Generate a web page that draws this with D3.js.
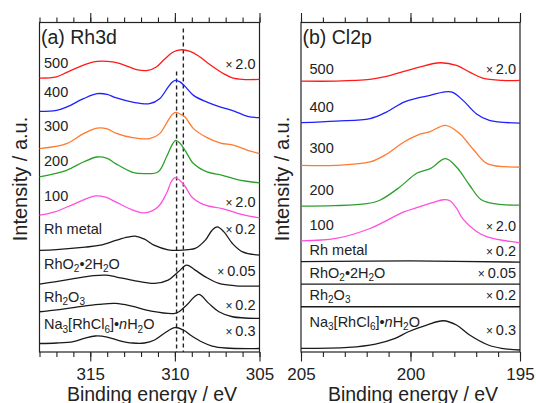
<!DOCTYPE html>
<html>
<head>
<meta charset="utf-8">
<script src="https://cdn.jsdelivr.net/npm/d3@7"></script>
<style>
  body { margin: 0; background: #fff; }
  text { font-family: "Liberation Sans", Arial, sans-serif; fill: #222; }
</style>
</head>
<body>
<script>
"use strict";

// ---- data: [binding energy (eV), stacked intensity (a.u.)] ----
// Rh3d
const rh500 = [[318, 274.3], [317, 275.5], [316.4, 280], [315.8, 284.5], [315.2, 288.5], [314.6, 291],
  [314.0, 291], [313.4, 289.5], [312.8, 286], [312.2, 282.5], [311.6, 282], [311.1, 285.5], [310.6, 293.5],
  [310.1, 300.5], [309.6, 302.7], [309.1, 301], [308.6, 296.5], [308.1, 290], [307.6, 284], [307.1, 278.5],
  [306.6, 274.5], [306.0, 273], [305, 273]];
const rh400 = [[318, 241], [317, 242], [316.4, 245.3], [315.4, 253.7], [314.6, 258.7], [314.0, 258],
  [313.5, 254.7], [312.5, 250.3], [311.5, 248.7], [310.9, 253.7], [310.4, 265.3], [310.15, 270.5],
  [309.95, 272], [309.7, 270.5], [309.4, 266], [308.9, 257], [308.1, 250.3], [307.3, 245.3], [306.5, 241.3],
  [305.7, 236], [305, 234.7]];
const rh300 = [[318, 203.7], [316.4, 208.7], [315.4, 218.7], [314.6, 224.3], [314.0, 223.5], [313.5, 219.3],
  [312.5, 214.7], [311.5, 213.7], [310.9, 218.7], [310.4, 232], [310.15, 238], [309.95, 240], [309.7, 238.5],
  [309.4, 235.3], [308.9, 223.7], [308.1, 214.7], [307.3, 209.3], [306.5, 207], [305.7, 202], [305, 198.7]];
const rh200 = [[318, 175.3], [316.4, 182], [315.4, 190.3], [314.6, 195.3], [314.0, 194], [313.5, 188.7],
  [312.5, 180], [311.8, 178.7], [311.0, 180.3], [310.5, 195.3], [310.15, 208], [309.95, 212], [309.7, 209],
  [309.4, 202], [308.9, 188.7], [308.1, 180.3], [307.2, 177], [306.3, 172.7], [305, 169.3]];
const rh100 = [[318, 137], [317.1, 140.3], [315.9, 148.7], [314.7, 156.3], [314.1, 155], [313.5, 150.3],
  [312.55, 142.7], [311.8, 139.3], [311.0, 145.3], [310.5, 158.7], [310.2, 171], [310.0, 174.7],
  [309.75, 172.5], [309.4, 166], [309.0, 155.3], [308.2, 147], [307.2, 143.7], [306.25, 138.7], [305, 134.3]];
const rhMetal = [[318, 101.7], [317, 102.5], [315.3, 105], [314.4, 107], [313.5, 111.7], [312.8, 115],
  [312.35, 116], [311.8, 113], [311.2, 106.7], [310.4, 102.3], [309.8, 101.7], [309.2, 102.5], [308.8, 103.7],
  [308.2, 112], [307.8, 122], [307.5, 125.3], [307.1, 120.3], [306.6, 108.7], [306.0, 100.3], [305, 97]];
const rhRhO2 = [[318, 68], [317.1, 70.3], [315.9, 73.7], [314.8, 76.5], [314.1, 77], [313.5, 75.3],
  [312.35, 71.3], [311.2, 68.7], [310.4, 72], [309.8, 80.3], [309.3, 87], [308.8, 82], [308.2, 75.3],
  [307.4, 68.7], [306.4, 66.3], [305, 66]];
const rhRh2O3 = [[318, 40.3], [317.1, 42], [315.9, 44.7], [314.5, 47.7], [313.5, 48.7], [312.55, 46],
  [311.4, 41], [310.0, 38.7], [309.7, 41], [309.3, 47], [308.6, 57.7], [308.0, 48.7], [307.4, 40.3],
  [306.6, 35.3], [305, 33.7]];
const rhNa = [[318, 8.5], [317, 9], [316, 10.5], [315.3, 14], [314.7, 16], [314.0, 15], [313.3, 11.5],
  [312.5, 9], [311.8, 9], [311.2, 12], [310.6, 19], [310.0, 24.5], [309.5, 22], [309.0, 16], [308.4, 10],
  [307.8, 6], [307.0, 4], [305, 3.5]];

// Cl2p
const cl500 = [[205, 271.3], [203.4, 271.3], [201.85, 273], [201.1, 276], [200.3, 281], [199.6, 285.3],
  [198.65, 289.7], [197.9, 287], [197.3, 280.3], [196.7, 274.3], [195.8, 272], [195, 272]];
const cl400 = [[205, 229.7], [203.4, 231.3], [201.85, 233.7], [201.1, 240.3], [200.3, 250.3], [199.7, 254.3],
  [199.1, 257], [198.5, 260.3], [198.1, 260.3], [197.6, 252], [197.0, 238.7], [196.4, 232], [195, 229.3]];
const cl300 = [[205, 187], [203.4, 187], [201.85, 190.3], [201.1, 198], [200.3, 210.3], [199.7, 217],
  [199.1, 220.8], [198.4, 227], [197.75, 218.7], [197.1, 202], [196.5, 188.7], [195, 185.3]];
const cl200 = [[205, 146], [203.5, 146.5], [202, 148.5], [201.4, 152], [200.5, 165], [199.7, 179.3],
  [199.1, 183.7], [198.4, 193.7], [197.9, 185.3], [197.3, 167], [196.8, 153], [196.3, 149], [195.8, 147.5],
  [195, 147]];
const cl100 = [[205, 111.3], [203.4, 113.7], [201.85, 123.7], [200.3, 140.3], [199.6, 145.3], [199.0, 149.5],
  [198.5, 152.5], [198.2, 151.5], [197.9, 144], [197.6, 133], [197.0, 121], [196.5, 115.3], [195, 109.3]];
const clMetal = [[205, 90.5], [200, 91.2], [195, 90]];
const clRhO2 = [[205, 68], [200, 68], [195, 68]];
const clRh2O3 = [[205, 45.3], [200, 45.3], [195, 45.3]];
const clNa = [[205, 3.7], [202.84, 4.7], [201.6, 8], [200.7, 13.7], [200.1, 20.3], [199.26, 27], [198.5, 31.3],
  [197.9, 27], [197.3, 17], [196.45, 7], [195.84, 3.7], [195, 2]];

const sampleNames = ["500", "400", "300", "200", "100", "Rh metal", "RhO_2\u20222H_2O", "Rh_2O_3",
  "Na_3[RhCl_6]\u2022*n*H_2O"];
const rhFactors = ["\u00d72.0", "", "", "", "\u00d72.0", "\u00d70.2", "\u00d70.05", "\u00d70.2", "\u00d70.3"];
const clFactors = ["\u00d72.0", "", "", "", "\u00d72.0", "\u00d70.2", "\u00d70.05", "\u00d70.2", "\u00d70.3"];
const rhRefEnergy = [309.9, 309.5];
const rhRefTop = [281, 324];
const rhMajorTicks = [315, 310, 305];
const clMajorTicks = [205, 200, 195];
const seriesColors = ["#ff1a1a", "#1f1fff", "#ff7a2e", "#2ca02c", "#ff4fdc", "#1a1a1a", "#1a1a1a", "#1a1a1a", "#1a1a1a"];

// ---- layout ----
const width = 536, height = 403;
const plotTop = 22.5, plotBottom = 352;

let svg = d3
  .select("body")
  .append("svg")
  .attr("width", width)
  .attr("height", height);

let y = d3.scaleLinear().domain([0, 330]).range([plotBottom, plotTop]);

function rich(sel, str) {
  let shift = 0;
  str.split(/(_\d|\*\w\*)/).filter(s => s).forEach(p => {
    let t = sel.append("tspan");
    if (p[0] === "_") {
      t.attr("dy", 3.5 - shift).attr("font-size", "10px").text(p.slice(1));
      shift = 3.5;
    } else {
      t.attr("dy", -shift);
      shift = 0;
      if (p[0] === "*") t.attr("font-style", "italic").text(p.slice(1, -1));
      else t.text(p);
    }
  });
}

function drawPanel(o) {
  let x = d3.scaleLinear().domain(o.domain).range([o.left, o.right]);
  let g = svg.append("g");
  let minor = d3.range(Math.min(...o.domain), Math.max(...o.domain) + 0.5, 1);

  // axes (top and bottom, ticks outward)
  let addAxis = (axisFn, ty, values, size, labels) => {
    let a = g.append("g")
      .attr("transform", `translate(0,${ty})`)
      .call(axisFn(x).tickValues(values).tickSize(size).tickSizeOuter(0)
        .tickFormat(labels ? d3.format("d") : ""));
    a.select(".domain").remove();
    a.selectAll("line").attr("stroke", "#222").attr("stroke-width", 1.1);
    a.selectAll("text")
      .attr("y", 28).attr("dy", 0)
      .style("font-size", "17px")
      .style("font-family", "'Liberation Sans', Arial, sans-serif")
      .attr("fill", "#222");
    return a;
  };
  addAxis(d3.axisTop, plotTop, minor, 5, false);
  addAxis(d3.axisTop, plotTop, o.major, 9.5, false);
  addAxis(d3.axisBottom, plotBottom, minor, 5, false);
  addAxis(d3.axisBottom, plotBottom, o.major, 9.5, true);

  g.append("rect")
    .attr("x", o.left).attr("y", plotTop)
    .attr("width", o.right - o.left).attr("height", plotBottom - plotTop)
    .attr("fill", "none").attr("stroke", "#222").attr("stroke-width", 1.2);

  // reference lines
  (o.refEnergy || []).forEach((e, i) => {
    g.append("line")
      .attr("x1", x(e)).attr("x2", x(e))
      .attr("y1", y(o.refTop[i])).attr("y2", plotBottom)
      .attr("stroke", "#222").attr("stroke-width", 1.4)
      .attr("stroke-dasharray", "4,3");
  });

  let line = d3.line()
    .x(d => x(d[0]))
    .y(d => y(d[1]))
    .curve(d3.curveCatmullRom.alpha(0.5));

  g.selectAll("path.spec")
    .data(o.series)
    .enter()
    .append("path")
    .attr("class", "spec")
    .attr("d", line)
    .attr("fill", "none")
    .attr("stroke", (d, i) => seriesColors[i])
    .attr("stroke-width", 1.3);

  sampleNames.forEach((name, i) => {
    let t = g.append("text")
      .attr("x", o.nameX).attr("y", o.nameY[i])
      .style("font-size", "14.5px");
    rich(t, name);
  });

  o.factors.forEach((f, i) => {
    if (!f) return;
    let t = g.append("text")
      .attr("x", o.right - 4).attr("y", o.factorY[i])
      .attr("text-anchor", "end")
      .style("font-size", "14.5px");
    t.append("tspan").style("font-size", "12px").text(f[0]);
    t.append("tspan").text("\u2009" + f.slice(1));
  });

  g.append("text")
    .attr("x", o.left + 1.5).attr("y", 43.5)
    .style("font-size", "19.5px")
    .text(o.title);

  g.append("text")
    .attr("x", (o.left + o.right) / 2 + 2.5).attr("y", 400.5)
    .attr("text-anchor", "middle")
    .style("font-size", "19.5px")
    .text("Binding energy / eV");

  g.append("text")
    .attr("transform", `translate(${o.left - 12.5},179) rotate(-90)`)
    .attr("text-anchor", "middle")
    .style("font-size", "20px")
    .text("Intensity / a.u.");
}

drawPanel({
  domain: [318, 305], left: 39.5, right: 259.5, major: rhMajorTicks,
  series: [rh500, rh400, rh300, rh200, rh100, rhMetal, rhRhO2, rhRh2O3, rhNa],
  title: "(a) Rh3d", nameX: 44,
  nameY: [68, 97, 131, 166, 201, 234, 268.5, 301.5, 329],
  factors: rhFactors,
  factorY: [69, 0, 0, 0, 206.5, 233.5, 276, 310, 336],
  refEnergy: rhRefEnergy, refTop: rhRefTop
});

drawPanel({
  domain: [205, 195], left: 301, right: 520, major: clMajorTicks,
  series: [cl500, cl400, cl300, cl200, cl100, clMetal, clRhO2, clRh2O3, clNa],
  title: "(b) Cl2p", nameX: 309.5,
  nameY: [73.5, 112, 153, 194.5, 230, 255, 277.5, 299.5, 326.5],
  factors: clFactors,
  factorY: [73.5, 0, 0, 0, 230.5, 255.5, 277.5, 299.5, 335]
});
</script>
</body>
</html>
